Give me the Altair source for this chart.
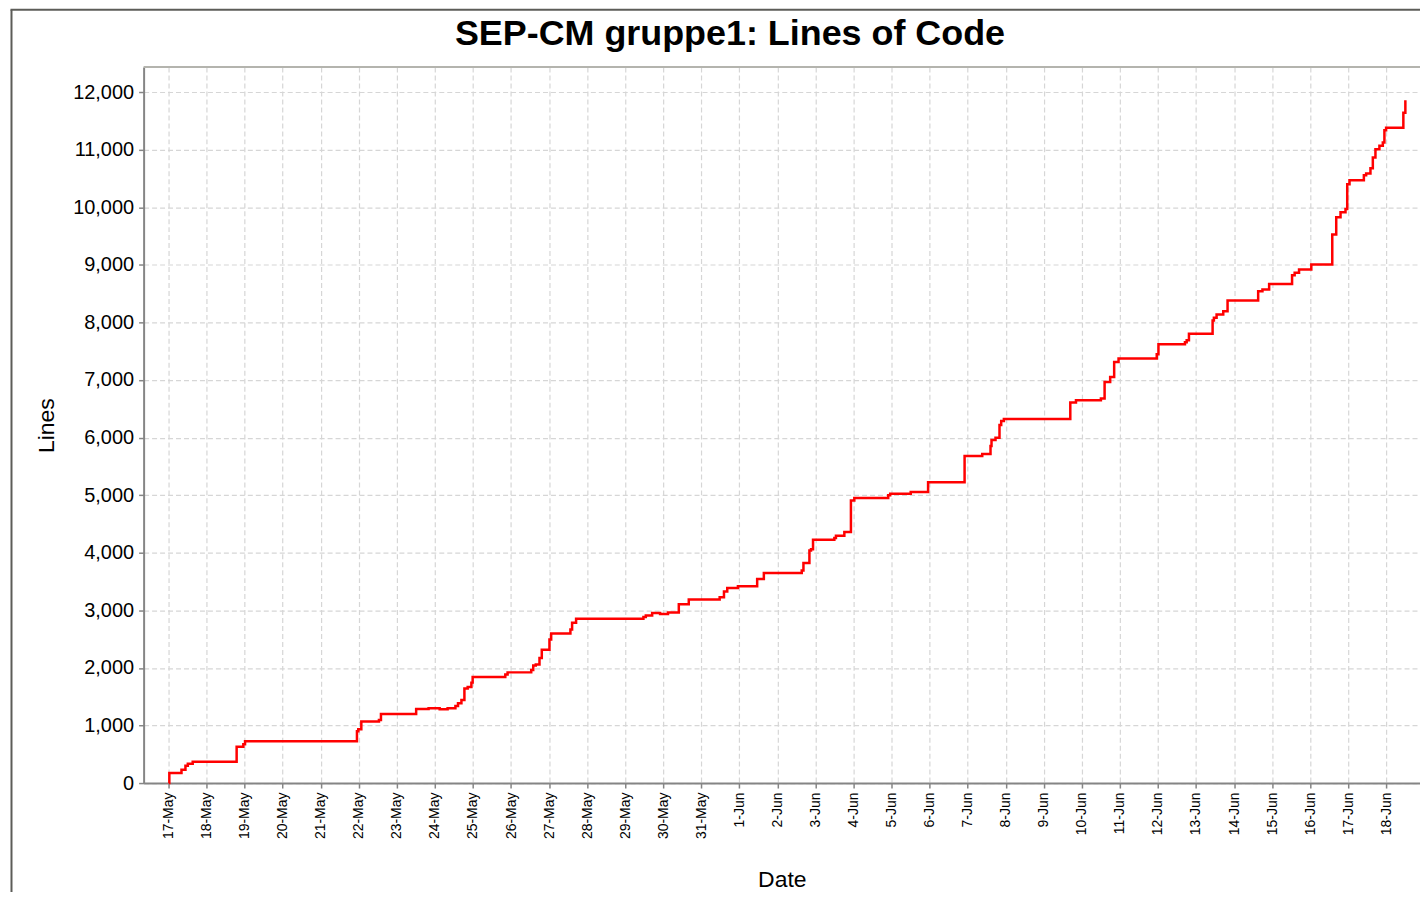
import altair as alt
import pandas as pd

# ---- data (time of commit, total lines) ----
times = [
    "05-17 00:10", "05-17 00:30", "05-17 08:10", "05-17 10:40", "05-17 12:10", "05-17 15:15",
    "05-18 18:57", "05-18 23:10", "05-19 00:15",
    "05-21 22:50", "05-21 23:40", "05-22 01:35", "05-22 12:42", "05-22 13:58",
    "05-23 12:10", "05-23 20:00", "05-24 03:00", "05-24 08:00",
    "05-24 12:56", "05-24 14:34", "05-24 16:43", "05-24 18:36", "05-24 20:40", "05-24 23:00", "05-24 23:48",
    "05-25 20:23", "05-25 21:50",
    "05-26 12:44", "05-26 14:00", "05-26 15:37", "05-26 17:57", "05-26 19:24",
    "05-27 00:14", "05-27 01:19", "05-27 13:27", "05-27 14:31", "05-27 17:02",
    "05-29 11:30", "05-29 13:00", "05-29 17:00", "05-29 22:00", "05-30 03:00",
    "05-30 09:49", "05-30 16:06",
    "05-31 11:35", "05-31 14:18", "05-31 16:22", "05-31 23:06",
    "06-01 11:14", "06-01 15:27",
    "06-02 15:21", "06-02 16:25", "06-02 20:11", "06-02 21:12", "06-02 22:28",
    "06-03 11:55", "06-03 12:55", "06-03 18:13", "06-03 22:22", "06-04 00:30",
    "06-04 21:53", "06-04 23:08", "06-05 12:05", "06-05 23:02",
    "06-06 22:03",
    "06-07 09:11", "06-07 14:24", "06-07 15:02", "06-07 17:33", "06-07 20:04", "06-07 21:08", "06-07 22:50",
    "06-09 16:43", "06-09 20:18",
    "06-10 12:01", "06-10 14:21", "06-10 17:52", "06-10 20:23", "06-10 23:09",
    "06-11 23:14", "06-12 00:19",
    "06-12 17:02", "06-12 18:07", "06-12 19:33",
    "06-13 10:28", "06-13 11:17", "06-13 12:59", "06-13 17:11", "06-13 19:54",
    "06-14 15:12", "06-14 17:54", "06-14 22:07",
    "06-15 12:35", "06-15 14:13", "06-15 16:59",
    "06-16 00:43", "06-16 13:56", "06-16 16:26", "06-16 19:09", "06-16 22:17", "06-16 23:22",
    "06-17 00:49", "06-17 09:52", "06-17 11:18", "06-17 14:01", "06-17 15:31", "06-17 17:10",
    "06-17 19:40", "06-17 21:49", "06-17 22:49", "06-17 23:53",
    "06-18 10:46", "06-18 12:02",
]
lines = [
    0, 173, 230, 300, 335, 370,
    630, 675, 727,
    900, 935, 1068, 1096, 1200,
    1285, 1300, 1280, 1300,
    1340, 1385, 1442, 1640, 1668, 1744, 1840,
    1887, 1922,
    1962, 2043, 2060, 2170, 2315,
    2494, 2597, 2667, 2783, 2852,
    2883, 2909, 2955, 2935, 2960,
    3105, 3186,
    3225, 3325, 3388, 3417,
    3543, 3647,
    3692, 3820, 4040, 4060, 4225,
    4255, 4294, 4358, 4905, 4952,
    4998, 5022, 5056, 5224,
    5680,
    5714, 5853, 5957, 5997, 6216, 6286, 6320,
    6610, 6649,
    6678, 6966, 7053, 7313, 7371,
    7446, 7619,
    7656, 7688, 7804,
    8034, 8081, 8138, 8195, 8381,
    8540, 8571, 8667,
    8819, 8861, 8918,
    9004, 9524, 9824, 9911, 9970, 10400,
    10468, 10556, 10585, 10678, 10862, 11007,
    11065, 11122, 11337, 11380,
    11642, 11856,
]
year = 2007
may_days = list(range(17, 32))
jun_days = list(range(1, 19))
y_ticks = list(range(0, 13000, 1000))

df = pd.DataFrame({
    "Date": [f"{year}-{t[:5]}T{t[6:]}:00Z" for t in times],
    "Lines": lines,
})

x_values = [alt.DateTime(year=year, month=5, date=d, utc=True) for d in may_days] + \
           [alt.DateTime(year=year, month=6, date=d, utc=True) for d in jun_days]

W, H = 1280, 718
FONT = "Liberation Sans"

line = alt.Chart(df).mark_line(
    interpolate="step-after", color="#ff0000", strokeWidth=2.5
).encode(
    x=alt.X("Date:T",
            scale=alt.Scale(type="utc",
                            domain=[alt.DateTime(year=year, month=5, date=16, hours=8, minutes=17, utc=True),
                                    alt.DateTime(year=year, month=6, date=18, hours=21, minutes=16, utc=True)]),
            axis=alt.Axis(values=x_values, format="%-d-%b", labelAngle=270,
                          labelFontSize=14, labelPadding=4, title="Date",
                          titleFontSize=23, titlePadding=30)),
    y=alt.Y("Lines:Q",
            scale=alt.Scale(domain=[0, 12433], nice=False, zero=True),
            axis=alt.Axis(values=y_ticks, format=",d", labelFontSize=20,
                          labelPadding=5, title="Lines", titleFontSize=23,
                          titlePadding=14)),
)

one = pd.DataFrame({"k": [0]})
top_border = alt.Chart(one).mark_rule(color="#b4b4ae", strokeWidth=2).encode(
    x=alt.value(0), x2=alt.value(W), y=alt.value(0))
frame_left = alt.Chart(one).mark_rule(color="#5c5c58", strokeWidth=2).encode(
    x=alt.value(-132.5), y=alt.value(-57.5), y2=alt.value(830))
frame_top = alt.Chart(one).mark_rule(color="#5c5c58", strokeWidth=2).encode(
    x=alt.value(-133.5), x2=alt.value(W), y=alt.value(-57.5))

chart = alt.layer(line, top_border, frame_left, frame_top).properties(
    width=W, height=H,
    title=alt.TitleParams("SEP-CM gruppe1: Lines of Code", font=FONT, fontSize=36,
                          fontWeight="bold", color="#000000", anchor="middle",
                          frame="group", dx=-52, offset=-80, baseline="bottom"),
    autosize=alt.AutoSizeParams(type="none"),
    padding={"left": 136, "top": 58, "right": 0, "bottom": 108},
    background="#ffffff",
).configure_view(
    stroke="transparent"
).configure_axis(
    labelFont=FONT, titleFont=FONT, labelColor="#000000", titleColor="#000000",
    titleFontWeight="normal",
    domainColor="#858585", domainWidth=2, tickColor="#858585", tickSize=5, tickWidth=1.5,
    grid=True, gridColor="#d6d6d6", gridDash=[5, 3], gridWidth=1.2,
)

chart.save("out.html", embed_options={"renderer": "svg", "actions": False})
